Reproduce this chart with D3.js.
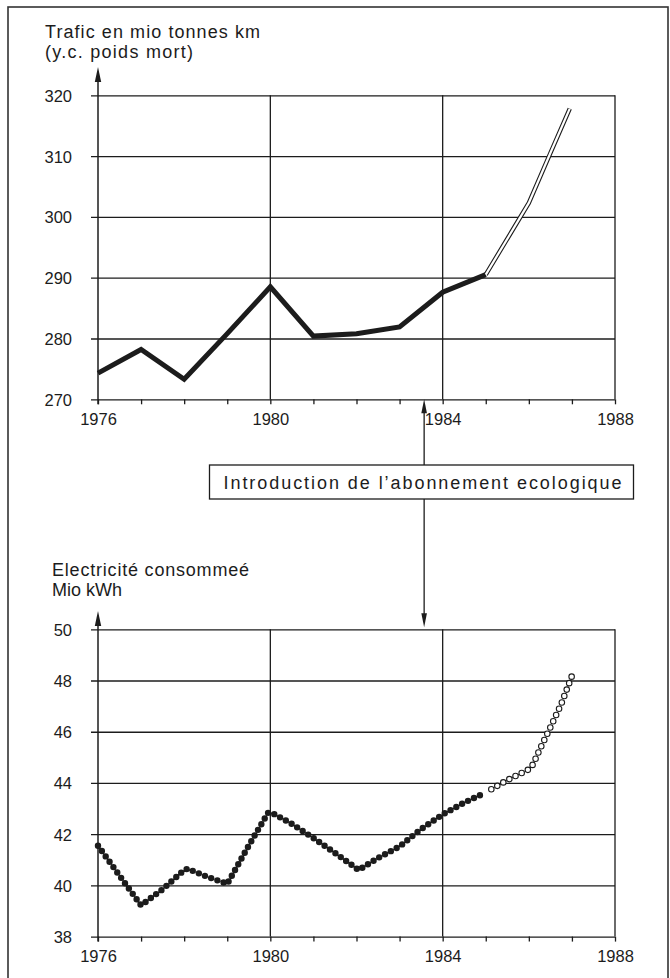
<!DOCTYPE html>
<html>
<head>
<meta charset="utf-8">
<script src="https://cdn.jsdelivr.net/npm/d3@7"></script>
<style>
	html, body { margin: 0; padding: 0; background: #fff; }
	svg text { font-family: "Liberation Sans", Arial, sans-serif; fill: #1c1c1c; }
</style>
</head>
<body>
<div class="svg-container"></div>
<script>
(function () {

	"use strict";

	// freight traffic, mio tonnes km (incl. dead weight)
	var traffic_years = [1976, 1977, 1978, 1979, 1980, 1981, 1982, 1983, 1984, 1985];
	var traffic_values = [274.3, 278.2, 273.3, 280.8, 288.5, 280.4, 280.8, 281.9, 287.6, 290.5];

	// projected traffic (double line)
	var traffic_proj_years = [1985, 1986, 1986.5, 1986.95];
	var traffic_proj_values = [290.5, 302.3, 310.5, 317.8];

	// electricity used, mio kWh
	var elec_years = [1976, 1976.5, 1977, 1977.5, 1978, 1978.08, 1978.5, 1979, 1979.5, 1979.95, 1980.05,
		1980.5, 1981, 1981.5, 1982.05, 1982.5, 1983, 1983.5, 1984, 1984.5, 1985];
	var elec_values = [41.55, 40.38, 39.22, 39.85, 40.6, 40.65, 40.36, 40.06, 41.56, 42.84, 42.82,
		42.4, 41.85, 41.27, 40.6, 41.07, 41.52, 42.2, 42.77, 43.23, 43.63];

	// projected electricity (open circles)
	var elec_proj_years = [1985, 1985.5, 1986, 1986.1, 1986.25, 1986.5, 1986.75, 1987];
	var elec_proj_values = [43.63, 44.11, 44.53, 44.73, 45.3, 46.17, 47.07, 48.18];

	// ticks and labels
	var year_ticks = d3.range(1976, 1989);
	var year_labels = [1976, 1980, 1984, 1988];
	var traffic_ticks = [270, 280, 290, 300, 310, 320];
	var elec_ticks = [38, 40, 42, 44, 46, 48, 50];
	var traffic_title = ["Trafic en mio tonnes km", "(y.c. poids mort)"];
	var elec_title = ["Electricit\u00e9 consomme\u00e9", "Mio kWh"];
	var intro_year = 1983.57;
	var intro_label = "Introduction de l\u2019abonnement ecologique";

	var ink = "#1c1c1c";
	var width = 670, height = 978;
	var font = "\"Liberation Sans\", Arial, sans-serif";

	var svg = d3.select(".svg-container").append("svg")
		.attr("width", width)
		.attr("height", height);

	svg.append("rect")
		.attr("x", 8).attr("y", 7)
		.attr("width", 660).attr("height", 990)
		.attr("fill", "none")
		.attr("stroke", "#333")
		.attr("stroke-width", 1.6);

	var x = d3.scaleLinear().domain([1976, 1988]).range([98, 615]);
	var y_traffic = d3.scaleLinear().domain([270, 320]).range([399.3, 95.3]);
	var y_elec = d3.scaleLinear().domain([38, 50]).range([936.6, 629.3]);

	function panel(y, ticks, title, title_x, title_y, title_widths, arrow_tip) {

		var g = svg.append("g");
		var y0 = y.range()[0], y1 = y.range()[1];

		// horizontal grid + labels
		g.append("g")
			.attr("transform", "translate(91,0)")
			.call(d3.axisLeft(y).tickValues(ticks).tickSize(-(x.range()[1] - 91)).tickPadding(19))
			.call(function (a) {
				a.select(".domain").remove();
				a.selectAll("line").attr("stroke", ink).attr("stroke-width", 1.3);
				a.selectAll("text").attr("font-size", 16.5).attr("dy", "0.36em")
					.style("font-family", font).attr("fill", ink);
			});

		// year ticks below the axis
		g.append("g")
			.attr("transform", "translate(0," + y0 + ")")
			.call(d3.axisBottom(x).tickValues(year_ticks).tickSize(5).tickPadding(9)
				.tickFormat(function (d) { return year_labels.indexOf(d) >= 0 ? d : ""; }))
			.call(function (a) {
				a.select(".domain").remove();
				a.selectAll("line").attr("stroke", ink).attr("stroke-width", 1.3);
				a.selectAll("text").attr("font-size", 16.5)
					.style("font-family", font).attr("fill", ink);
			});

		// vertical grid lines
		g.selectAll(".vgrid")
			.data(year_labels.slice(1))
			.enter()
			.append("line")
			.attr("x1", function (d) { return x(d); })
			.attr("x2", function (d) { return x(d); })
			.attr("y1", y1).attr("y2", y0)
			.attr("stroke", ink).attr("stroke-width", 1.3);

		// y axis with arrow
		g.append("line")
			.attr("x1", x(1976)).attr("x2", x(1976))
			.attr("y1", y0 + 5).attr("y2", arrow_tip + 6)
			.attr("stroke", ink).attr("stroke-width", 1.5);

		g.append("path")
			.attr("d", "M" + x(1976) + "," + arrow_tip + " l3.2,15 l-6.4,0 z")
			.attr("fill", ink);

		g.selectAll(".title")
			.data(title)
			.enter()
			.append("text")
			.attr("x", title_x)
			.attr("y", function (d, i) { return title_y + i * 20; })
			.attr("font-size", 18)
			.attr("textLength", function (d, i) { return title_widths[i]; })
			.attr("lengthAdjust", "spacing")
			.text(function (d) { return d; });
	}

	panel(y_traffic, traffic_ticks, traffic_title, 45, 38, [215, 148], 67);
	panel(y_elec, elec_ticks, elec_title, 52, 575.5, [197, 70], 611);

	// traffic line
	var traffic_line = d3.line()
		.x(function (d) { return x(d[0]); })
		.y(function (d) { return y_traffic(d[1]); });

	svg.append("path")
		.datum(d3.zip(traffic_years, traffic_values))
		.attr("d", traffic_line)
		.attr("fill", "none")
		.attr("stroke", ink)
		.attr("stroke-width", 5)
		.attr("stroke-linejoin", "miter");

	var proj = d3.zip(traffic_proj_years, traffic_proj_values);

	svg.append("path")
		.datum(proj)
		.attr("d", traffic_line)
		.attr("fill", "none")
		.attr("stroke", ink)
		.attr("stroke-width", 4.4);

	svg.append("path")
		.datum(proj)
		.attr("d", traffic_line)
		.attr("fill", "none")
		.attr("stroke", "#fff")
		.attr("stroke-width", 2.2);

	// electricity dotted line
	var elec_line = d3.line()
		.x(function (d) { return x(d[0]); })
		.y(function (d) { return y_elec(d[1]); });

	svg.append("path")
		.datum(d3.zip(elec_years, elec_values))
		.attr("d", elec_line)
		.attr("fill", "none")
		.attr("stroke", ink)
		.attr("stroke-width", 6.4)
		.attr("stroke-linecap", "round")
		.attr("stroke-dasharray", "0 6.6");

	var elec_proj = d3.zip(elec_proj_years, elec_proj_values);

	[[ink, 6.6], ["#fff", 4.4]].forEach(function (s) {
		svg.append("path")
			.datum(elec_proj)
			.attr("d", elec_line)
			.attr("fill", "none")
			.attr("stroke", s[0])
			.attr("stroke-width", s[1])
			.attr("stroke-linecap", "round")
			.attr("stroke-dasharray", "0 6.9")
			.attr("stroke-dashoffset", -6.4);
	});

	// annotation
	var ax = x(intro_year),
		box_top = 465, box_bottom = 499;

	svg.append("rect")
		.attr("x", 209.5).attr("y", box_top)
		.attr("width", 424).attr("height", box_bottom - box_top)
		.attr("fill", "#fff")
		.attr("stroke", ink)
		.attr("stroke-width", 1.3);

	svg.append("text")
		.attr("x", 223.5).attr("y", 488.5)
		.attr("font-size", 18)
		.attr("textLength", 398)
		.attr("lengthAdjust", "spacing")
		.text(intro_label);

	var up_tip = y_traffic(270), down_tip = y_elec(50) - 2;

	svg.append("line")
		.attr("x1", ax).attr("x2", ax)
		.attr("y1", up_tip + 6).attr("y2", box_top)
		.attr("stroke", ink).attr("stroke-width", 1.3);

	svg.append("path")
		.attr("d", "M" + ax + "," + up_tip + " l2.8,14 l-5.6,0 z")
		.attr("fill", ink);

	svg.append("line")
		.attr("x1", ax).attr("x2", ax)
		.attr("y1", box_bottom).attr("y2", down_tip - 6)
		.attr("stroke", ink).attr("stroke-width", 1.3);

	svg.append("path")
		.attr("d", "M" + ax + "," + down_tip + " l2.8,-14 l-5.6,0 z")
		.attr("fill", ink);

})();
</script>
</body>
</html>
